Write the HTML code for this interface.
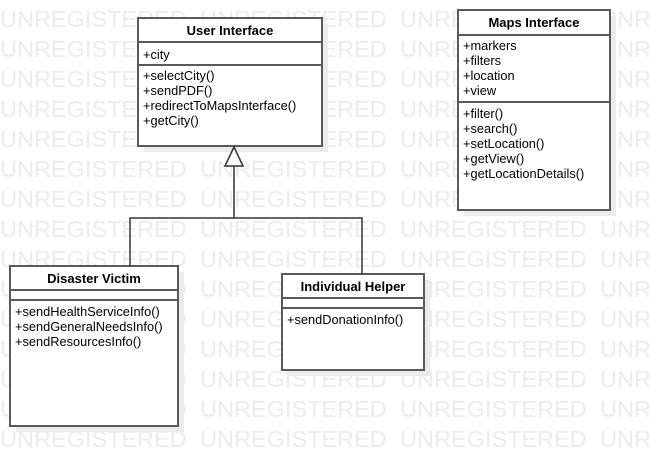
<!DOCTYPE html>
<html><head><meta charset="utf-8"><style>
body{margin:0;width:650px;height:466px;background:#fff;overflow:hidden}
svg{display:block}
</style></head><body>
<svg width="650" height="466" xmlns="http://www.w3.org/2000/svg" font-family="Liberation Sans, sans-serif">
<g fill="#ececec" font-size="23.5">
<text x="0" y="27">UNREGISTERED</text><text x="200" y="27">UNREGISTERED</text><text x="400" y="27">UNREGISTERED</text><text x="600" y="27">UNREGISTERED</text>
<text x="0" y="57">UNREGISTERED</text><text x="200" y="57">UNREGISTERED</text><text x="400" y="57">UNREGISTERED</text><text x="600" y="57">UNREGISTERED</text>
<text x="0" y="87">UNREGISTERED</text><text x="200" y="87">UNREGISTERED</text><text x="400" y="87">UNREGISTERED</text><text x="600" y="87">UNREGISTERED</text>
<text x="0" y="117">UNREGISTERED</text><text x="200" y="117">UNREGISTERED</text><text x="400" y="117">UNREGISTERED</text><text x="600" y="117">UNREGISTERED</text>
<text x="0" y="147">UNREGISTERED</text><text x="200" y="147">UNREGISTERED</text><text x="400" y="147">UNREGISTERED</text><text x="600" y="147">UNREGISTERED</text>
<text x="0" y="177">UNREGISTERED</text><text x="200" y="177">UNREGISTERED</text><text x="400" y="177">UNREGISTERED</text><text x="600" y="177">UNREGISTERED</text>
<text x="0" y="207">UNREGISTERED</text><text x="200" y="207">UNREGISTERED</text><text x="400" y="207">UNREGISTERED</text><text x="600" y="207">UNREGISTERED</text>
<text x="0" y="237">UNREGISTERED</text><text x="200" y="237">UNREGISTERED</text><text x="400" y="237">UNREGISTERED</text><text x="600" y="237">UNREGISTERED</text>
<text x="0" y="267">UNREGISTERED</text><text x="200" y="267">UNREGISTERED</text><text x="400" y="267">UNREGISTERED</text><text x="600" y="267">UNREGISTERED</text>
<text x="0" y="297">UNREGISTERED</text><text x="200" y="297">UNREGISTERED</text><text x="400" y="297">UNREGISTERED</text><text x="600" y="297">UNREGISTERED</text>
<text x="0" y="327">UNREGISTERED</text><text x="200" y="327">UNREGISTERED</text><text x="400" y="327">UNREGISTERED</text><text x="600" y="327">UNREGISTERED</text>
<text x="0" y="357">UNREGISTERED</text><text x="200" y="357">UNREGISTERED</text><text x="400" y="357">UNREGISTERED</text><text x="600" y="357">UNREGISTERED</text>
<text x="0" y="387">UNREGISTERED</text><text x="200" y="387">UNREGISTERED</text><text x="400" y="387">UNREGISTERED</text><text x="600" y="387">UNREGISTERED</text>
<text x="0" y="417">UNREGISTERED</text><text x="200" y="417">UNREGISTERED</text><text x="400" y="417">UNREGISTERED</text><text x="600" y="417">UNREGISTERED</text>
<text x="0" y="447">UNREGISTERED</text><text x="200" y="447">UNREGISTERED</text><text x="400" y="447">UNREGISTERED</text><text x="600" y="447">UNREGISTERED</text>
</g>
<g fill="#ebebeb">
<rect x="144" y="24" width="184" height="128"/>
<rect x="464" y="16" width="152" height="200"/>
<rect x="16" y="272" width="168" height="160"/>
<rect x="288" y="280" width="142" height="96"/>
</g>
<g fill="#fff" stroke="#5a5a5a" stroke-width="2">
<rect x="138" y="18" width="184" height="128"/>
<line x1="138" y1="42" x2="322" y2="42"/><line x1="138" y1="65" x2="322" y2="65"/>
<rect x="458" y="10" width="152" height="200"/>
<line x1="458" y1="35" x2="610" y2="35"/><line x1="458" y1="102" x2="610" y2="102"/>
<rect x="10" y="266" width="168" height="160"/>
<line x1="10" y1="290" x2="178" y2="290"/><line x1="10" y1="300" x2="178" y2="300"/>
<rect x="282" y="274" width="142" height="96"/>
<line x1="282" y1="298" x2="424" y2="298"/><line x1="282" y1="308" x2="424" y2="308"/>
</g>
<g fill="none" stroke="#333" stroke-width="1.5">
<polyline points="130,266 130,218 362,218 362,274"/>
<line x1="234" y1="166" x2="234" y2="218"/>
<polygon points="234,147 225,166 243,166" fill="#fff"/>
</g>
<g font-size="13" font-weight="bold" fill="#000" text-anchor="middle">
<text x="230" y="35">User Interface</text>
<text x="534" y="27">Maps Interface</text>
<text x="94" y="283">Disaster Victim</text>
<text x="353" y="291">Individual Helper</text>
</g>
<g font-size="12.8" fill="#000">
<text x="143" y="59">+city</text>
<text x="143" y="80">+selectCity()</text>
<text x="143" y="95">+sendPDF()</text>
<text x="143" y="110">+redirectToMapsInterface()</text>
<text x="143" y="125">+getCity()</text>
<text x="463" y="50">+markers</text>
<text x="463" y="65">+filters</text>
<text x="463" y="80">+location</text>
<text x="463" y="95">+view</text>
<text x="463" y="118">+filter()</text>
<text x="463" y="133">+search()</text>
<text x="463" y="148">+setLocation()</text>
<text x="463" y="163">+getView()</text>
<text x="463" y="178">+getLocationDetails()</text>
<text x="15" y="316">+sendHealthServiceInfo()</text>
<text x="15" y="331">+sendGeneralNeedsInfo()</text>
<text x="15" y="346">+sendResourcesInfo()</text>
<text x="287" y="324">+sendDonationInfo()</text>
</g>
</svg>
</body></html>
